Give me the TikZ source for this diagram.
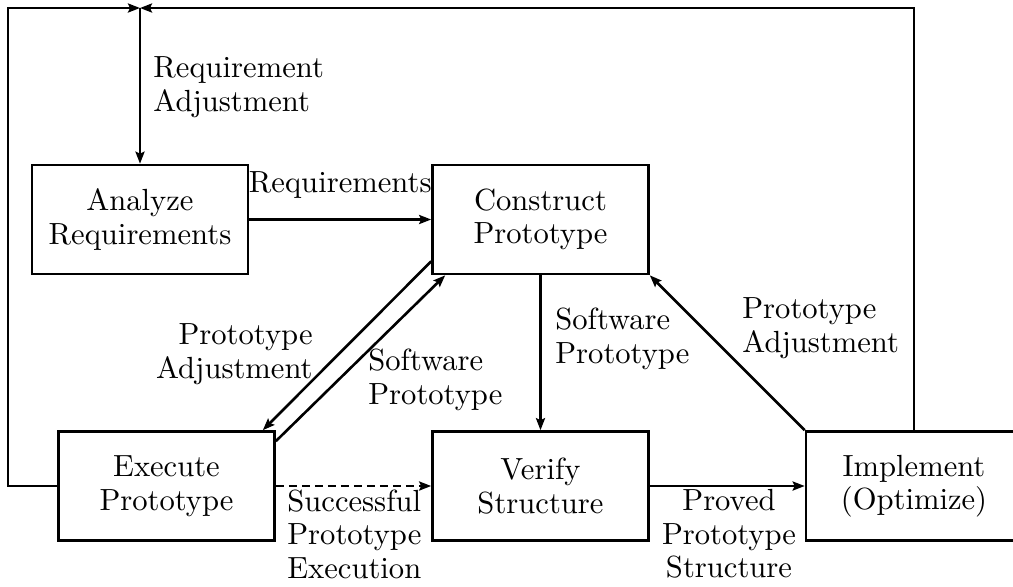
\documentclass[tikz,border=0pt]{standalone}
\usepackage{fontspec}
\setmainfont{lmroman10-regular.otf}
\usepackage{tikz}
\usetikzlibrary{arrows.meta,calc}

\begin{document}
\begin{tikzpicture}[x=0.5pt, y=-0.5pt,
    every node/.style={font=\fontsize{15.3}{16.75}\selectfont},
    stage/.style={draw, line width=1.3pt, minimum width=108pt, minimum height=54.5pt, align=center, inner sep=0pt},
    lbl/.style={inner sep=0pt},
    flow/.style={line width=1.3pt, -{Stealth[length=6pt,width=4.5pt,inset=1pt]}}]
    \useasboundingbox (0,0) rectangle (1013,586);
    \clip (0,0) rectangle (1013,586);

    % the five stages
    \node[stage] (analyze) at (140,219.5) {Analyze\\Requirements};
    \node[stage] (construct) at (540.5,219.5) {Construct\\Prototype};
    \node[stage] (execute) at (166.5,486) {Execute\\Prototype};
    \node[stage] (verify) at (540.5,486) {Verify\\Structure};
    \node[stage] (implement) at (914,486) {Implement\\(Optimize)};

    % feedback loop along the top
    \coordinate (junction) at (140,8);
    \coordinate (corner) at (8,8);
    \draw[flow] (execute.west) -| (corner) -- (junction);
    \draw[flow] (implement.north) |- (junction);
    \draw[flow] (junction) -- (analyze.north);
    \node[lbl, anchor=west, align=left] (reqadj) at (153,87) {Requirement\\Adjustment};

    % main flow
    \draw[flow] (analyze) -- node[lbl, above=10pt] (req) {Requirements} (construct);
    \draw[flow] (construct) -- (verify);
    \draw[flow, dash pattern=on 4pt off 2.5pt] (execute) -- (verify);
    \draw[flow] (verify) -- (implement);
    \draw[flow] (implement.north west) -- (construct.south east);

    % the pair of diagonals between construct and execute
    \draw[flow] ($(construct.south west)+(0,-14)$) -- ($(execute.north east)+(-13,0)$);
    \draw[flow] ($(execute.north east)+(0,11)$) -- ($(construct.south west)+(14,0)$);

    % labels
    \node[lbl, anchor=east, align=right] (protadjl) at (313,354) {Prototype\\Adjustment};
    \node[lbl, anchor=west, align=left] (swprotol) at (368,380) {Software\\Prototype};
    \node[lbl, anchor=west, align=left] (swprotoc) at (555,339) {Software\\Prototype};
    \node[lbl, anchor=west, align=left] (protadjr) at (742,328) {Prototype\\Adjustment};
    \node[lbl, anchor=west, align=left] (success) at (287,534) {Successful\\Prototype\\Execution};
    \node[lbl, align=center] (proved) at (729,534) {Proved\\Prototype\\Structure};
\end{tikzpicture}
\end{document}
